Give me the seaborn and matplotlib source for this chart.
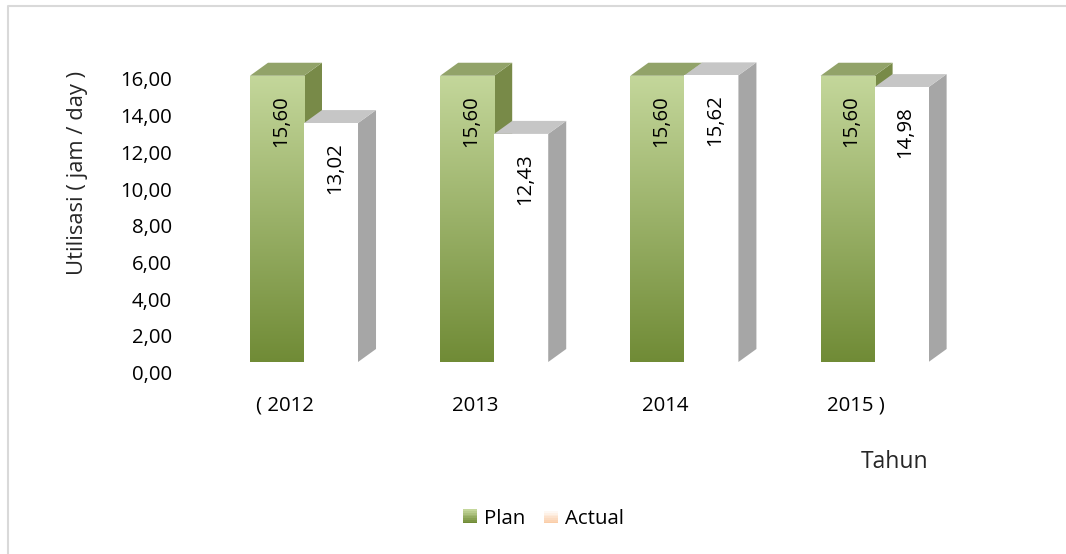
import numpy as np
import pandas as pd
import matplotlib
matplotlib.use("Agg")
import matplotlib.pyplot as plt
import seaborn as sns
from matplotlib.patches import Polygon, Rectangle
from matplotlib.legend_handler import HandlerBase
from matplotlib.lines import Line2D
from matplotlib.transforms import ScaledTranslation

# ---- data -------------------------------------------------------------
years = ["( 2012", "2013", "2014", "2015 )"]
series = ["Plan", "Actual"]
plan = [15.60, 15.60, 15.60, 15.60]
actual = [13.02, 12.43, 15.62, 14.98]
y_ticks = [0, 2, 4, 6, 8, 10, 12, 14, 16]
y_title = "Utilisasi ( jam / day )"
x_title = "Tahun"

# ---- styling ------------------------------------------------------------
W, H, DPI = 1066, 554, 100
FS = 14.7
PLAN_TOP = np.array([196, 215, 155]) / 255
PLAN_BOT = np.array([112, 139, 54]) / 255
PLAN_SIDE = "#788a48"
PLAN_LID = "#92a369"
ACT_SIDE = "#a6a6a6"
ACT_LID = "#c6c6c6"
LEG_ACT_TOP = np.array([255, 255, 255]) / 255
LEG_ACT_BOT = np.array([250, 205, 168]) / 255

sns.set_theme(style="white")
plt.rcParams["font.family"] = ["Open Sans", "DejaVu Sans"]
plt.rcParams["text.color"] = "black"

fig = plt.figure(figsize=(W / DPI, H / DPI), dpi=DPI)
fig.patch.set_facecolor("white")

# axes placement (pixels), front plane of the columns
slot_px = 190.2
x0_px = 304.0
base_px = 362.0
unit_px = 18.35
xlim = (-0.6, 3.66)
ylim = (0.0, 17.0)
left = x0_px + xlim[0] * slot_px
right = x0_px + xlim[1] * slot_px
top = base_px - ylim[1] * unit_px
ax = fig.add_axes([left / W, 1 - base_px / H, (right - left) / W, (base_px - top) / H])
ax.set_facecolor("none")

df = pd.DataFrame({
    "Tahun": years * 2,
    "series": [series[0]] * len(years) + [series[1]] * len(years),
    "value": plan + actual,
})
sns.barplot(data=df, x="Tahun", y="value", hue="series", order=years,
            hue_order=series, palette=["#8fab55", "white"], width=0.568,
            linewidth=0, errorbar=None, legend=False, ax=ax)

# depth of the 3-D look, converted to data units
dx = 18 / slot_px
dy = 13 / unit_px

grad = np.linspace(0, 1, 256)[:, None, None]
plan_img = PLAN_TOP * (1 - grad) + PLAN_BOT * grad


def add_block(bar, side_c, lid_c, z):
    x, w, h = bar.get_x(), bar.get_width(), bar.get_height()
    side = Polygon([(x + w, 0), (x + w + dx, dy), (x + w + dx, h + dy), (x + w, h)],
                   closed=True, fc=side_c, ec="none", zorder=z)
    lid = Polygon([(x, h), (x + w, h), (x + w + dx, h + dy), (x + dx, h + dy)],
                  closed=True, fc=lid_c, ec="none", zorder=z + 0.1)
    ax.add_patch(side)
    ax.add_patch(lid)
    bar.set_zorder(z + 0.2)
    return x, w, h


plan_bars, act_bars = ax.containers[0], ax.containers[1]
for pb, ab in zip(plan_bars, act_bars):
    x, w, h = add_block(pb, PLAN_SIDE, PLAN_LID, 2)
    im = ax.imshow(plan_img, extent=[x, x + w, 0, h], origin="upper",
                   aspect="auto", interpolation="bilinear", zorder=2.3)
    im.set_clip_path(pb)
    add_block(ab, ACT_SIDE, ACT_LID, 3)

# value labels, rotated inside the top of each column
for bars, vals in ((plan_bars, plan), (act_bars, actual)):
    for bar, v in zip(bars, vals):
        ax.annotate(f"{v:.2f}".replace(".", ","),
                    xy=(bar.get_x() + bar.get_width() / 2, v),
                    xytext=(4, -45), textcoords="offset pixels",
                    rotation=90, ha="center", va="center", fontsize=FS,
                    color="black", zorder=10)

ax.set_xlim(*xlim)
ax.set_ylim(*ylim)
for s in ax.spines.values():
    s.set_visible(False)

ax.set_yticks(y_ticks)
ax.set_yticklabels([f"{t:.2f}".replace(".", ",") for t in y_ticks])
ax.tick_params(axis="both", length=0, labelsize=FS, labelcolor="black")
ax.tick_params(axis="y", pad=18 * 72 / DPI)
ax.tick_params(axis="x", pad=34 * 72 / DPI)
for lab in ax.get_yticklabels():
    lab.set_transform(lab.get_transform() + ScaledTranslation(0, -10.5 / DPI, fig.dpi_scale_trans))
for lab in ax.get_xticklabels():
    lab.set_transform(lab.get_transform() + ScaledTranslation(-19 / DPI, 0, fig.dpi_scale_trans))

ax.set_ylabel(y_title, fontsize=15.8)
ax.set_xlabel(x_title, fontsize=16.5)
ax.yaxis.label.set(ha="center", va="center")
ax.xaxis.label.set(ha="center", va="center")
ax.yaxis.set_label_coords((78 - left) / (right - left), (base_px - 173) / (base_px - top))
ax.xaxis.set_label_coords((895 - left) / (right - left), (base_px - 462) / (base_px - top))


# legend with shaded swatches
class ShadedSwatch(HandlerBase):
    def __init__(self, c_top, c_bot, n=8):
        super().__init__()
        self.c_top, self.c_bot, self.n = c_top, c_bot, n

    def create_artists(self, legend, orig_handle, xdescent, ydescent,
                       width, height, fontsize, trans):
        arts = []
        for k in range(self.n):
            t = k / (self.n - 1)
            c = self.c_bot * (1 - t) + self.c_top * t
            arts.append(Rectangle((-xdescent, -ydescent + height * k / self.n),
                                  width, height / self.n + 0.3, fc=c, ec="none",
                                  transform=trans))
        return arts


h_plan = Rectangle((0, 0), 1, 1)
h_act = Rectangle((0, 0), 1, 1)
fig.legend([h_plan, h_act], series, loc="center",
           bbox_to_anchor=(543.5 / W, 1 - 518.5 / H), ncol=2, frameon=False,
           fontsize=FS, handlelength=0.69, handleheight=0.69,
           handletextpad=0.34, columnspacing=0.93,
           handler_map={h_plan: ShadedSwatch(PLAN_TOP, PLAN_BOT),
                        h_act: ShadedSwatch(LEG_ACT_TOP, LEG_ACT_BOT)})

# chart-area frame
fig.add_artist(Line2D([8 / W, 8 / W, 1.0], [0.0, 1 - 6 / H, 1 - 6 / H],
                      transform=fig.transFigure, color="#d9d9d9", lw=1.5))

fig.savefig("out.png", dpi=DPI)
